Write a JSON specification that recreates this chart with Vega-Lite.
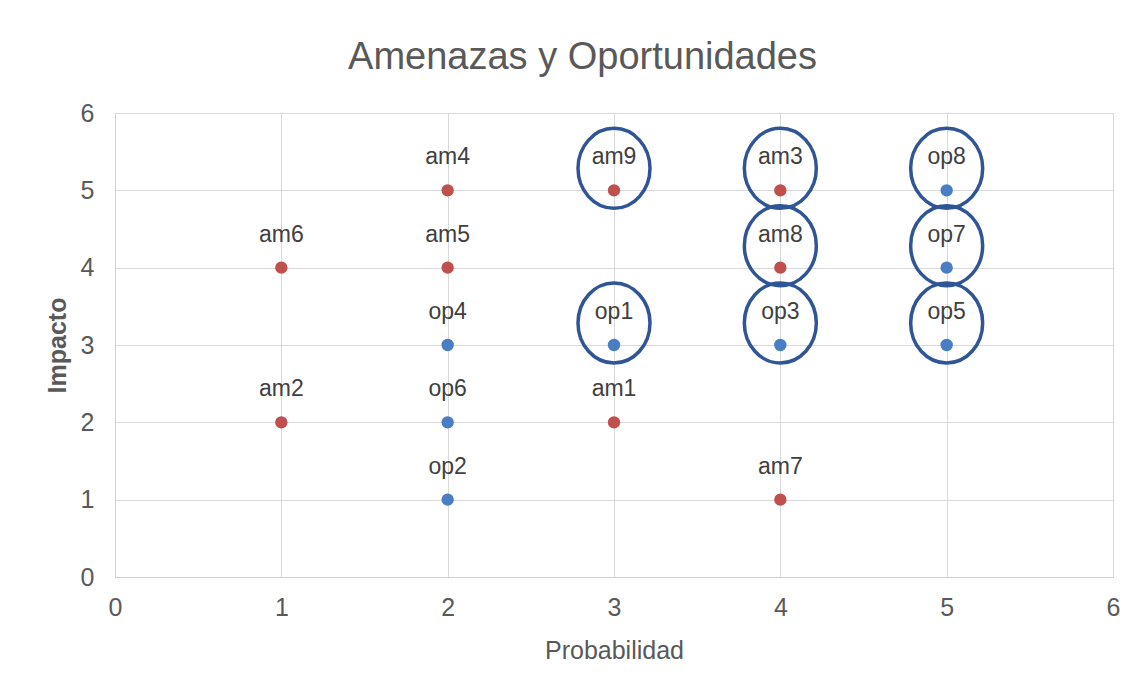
{
  "$schema": "https://vega.github.io/schema/vega-lite/v6.json",
  "width": 998,
  "height": 464,
  "autosize": {"type": "none"},
  "padding": {"left": 115, "top": 113, "right": 29, "bottom": 118},
  "background": "white",
  "title": {
    "text": "Amenazas y Oportunidades",
    "fontSize": 38,
    "font": "Liberation Sans",
    "fontWeight": "normal",
    "color": "#595959",
    "anchor": "middle",
    "frame": "bounds",
    "offset": 24
  },
  "data": {
    "values": [
      {"prob": 1, "imp": 4, "label": "am6", "tipo": "Amenaza", "circ": false},
      {"prob": 1, "imp": 2, "label": "am2", "tipo": "Amenaza", "circ": false},
      {"prob": 2, "imp": 5, "label": "am4", "tipo": "Amenaza", "circ": false},
      {"prob": 2, "imp": 4, "label": "am5", "tipo": "Amenaza", "circ": false},
      {"prob": 2, "imp": 3, "label": "op4", "tipo": "Oportunidad", "circ": false},
      {"prob": 2, "imp": 2, "label": "op6", "tipo": "Oportunidad", "circ": false},
      {"prob": 2, "imp": 1, "label": "op2", "tipo": "Oportunidad", "circ": false},
      {"prob": 3, "imp": 5, "label": "am9", "tipo": "Amenaza", "circ": true},
      {"prob": 3, "imp": 3, "label": "op1", "tipo": "Oportunidad", "circ": true},
      {"prob": 3, "imp": 2, "label": "am1", "tipo": "Amenaza", "circ": false},
      {"prob": 4, "imp": 5, "label": "am3", "tipo": "Amenaza", "circ": true},
      {"prob": 4, "imp": 4, "label": "am8", "tipo": "Amenaza", "circ": true},
      {"prob": 4, "imp": 3, "label": "op3", "tipo": "Oportunidad", "circ": true},
      {"prob": 4, "imp": 1, "label": "am7", "tipo": "Amenaza", "circ": false},
      {"prob": 5, "imp": 5, "label": "op8", "tipo": "Oportunidad", "circ": true},
      {"prob": 5, "imp": 4, "label": "op7", "tipo": "Oportunidad", "circ": true},
      {"prob": 5, "imp": 3, "label": "op5", "tipo": "Oportunidad", "circ": true}
    ]
  },
  "encoding": {
    "x": {
      "field": "prob",
      "type": "quantitative",
      "scale": {"domain": [0, 6], "nice": false},
      "axis": {
        "title": "Probabilidad",
        "values": [0, 1, 2, 3, 4, 5, 6],
        "format": "d",
        "ticks": false,
        "labelFlush": false,
        "labelPadding": 18,
        "titlePadding": 18,
        "domainColor": "#D0D0D0",
        "gridColor": "#D9D9D9",
        "labelFontSize": 25,
        "titleFontSize": 25,
        "titleFontWeight": "normal",
        "labelColor": "#595959",
        "titleColor": "#595959",
        "labelFont": "Liberation Sans",
        "titleFont": "Liberation Sans"
      }
    },
    "y": {
      "field": "imp",
      "type": "quantitative",
      "scale": {"domain": [0, 6], "nice": false},
      "axis": {
        "title": "Impacto",
        "values": [0, 1, 2, 3, 4, 5, 6],
        "format": "d",
        "ticks": false,
        "labelFlush": false,
        "labelPadding": 21,
        "titlePadding": 10,
        "domainColor": "#D0D0D0",
        "gridColor": "#D9D9D9",
        "labelFontSize": 25,
        "titleFontSize": 25,
        "titleFontWeight": 600,
        "labelColor": "#595959",
        "titleColor": "#595959",
        "labelFont": "Liberation Sans",
        "titleFont": "Liberation Sans"
      }
    }
  },
  "layer": [
    {
      "mark": {"type": "point", "shape": "circle", "filled": true, "size": 154, "opacity": 1},
      "encoding": {
        "color": {
          "field": "tipo",
          "type": "nominal",
          "scale": {"domain": ["Amenaza", "Oportunidad"], "range": ["#C0504D", "#4A7EC4"]},
          "legend": null
        }
      }
    },
    {
      "mark": {"type": "text", "dy": -33, "fontSize": 23, "font": "Liberation Sans", "color": "#404040"},
      "encoding": {"text": {"field": "label"}}
    },
    {
      "transform": [{"filter": "datum.circ"}],
      "mark": {
        "type": "point",
        "shape": "M -0.9 0 A 0.9 1 0 1 1 0.9 0 A 0.9 1 0 1 1 -0.9 0 Z",
        "size": 6400,
        "filled": false,
        "stroke": "#2F5597",
        "strokeWidth": 3.5,
        "opacity": 1,
        "yOffset": -22
      }
    }
  ],
  "config": {"view": {"stroke": "#D9D9D9"}}
}
